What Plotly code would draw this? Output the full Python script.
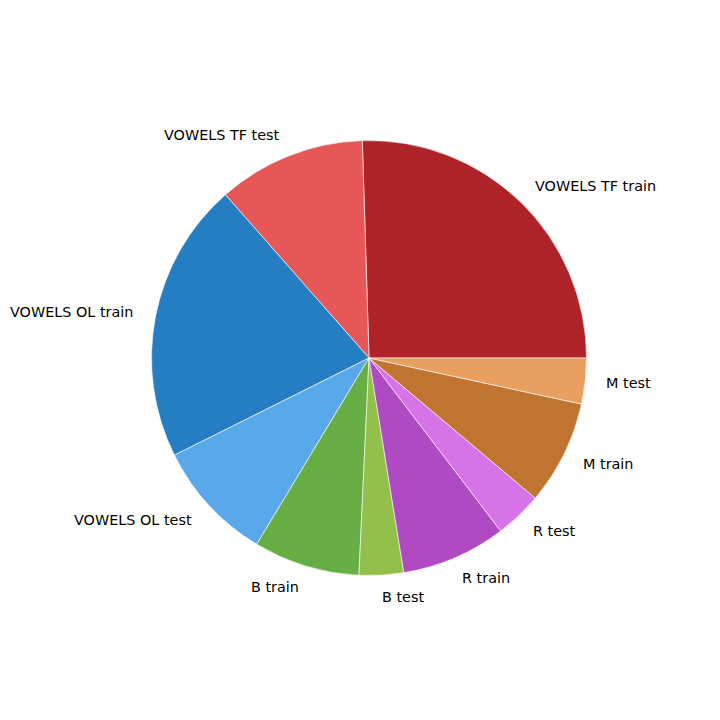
import math
import plotly.graph_objects as go

labels = ["VOWELS TF train", "VOWELS TF test", "VOWELS OL train", "VOWELS OL test",
          "B train", "B test", "R train", "R test", "M train", "M test"]
values = [25.5, 11.0, 20.9, 9.0, 7.9, 3.3, 7.8, 3.5, 7.75, 3.4]
colors = ["#AE2328", "#E85757", "#257DC2", "#59A8E9", "#67AF44", "#93C04B",
          "#B04AC3", "#D673E8", "#C07430", "#E99F5F"]

W = H = 720
OFF = 8  # page body margin
cx, cy, R = 369 - OFF, 358 - OFF, 217.5

total = sum(values)
# plotly puts the first slice's counterclockwise edge at `rotation`; start first slice at 3 o'clock
rot = 90 - 360 * values[0] / total

fig = go.Figure(go.Pie(
    labels=labels, values=values, sort=False,
    direction="counterclockwise", rotation=rot,
    marker=dict(colors=colors, line=dict(color="white", width=0.6)),
    textinfo="none", hoverinfo="label+percent", showlegend=False,
    domain=dict(x=[(cx - R) / W, (cx + R) / W], y=[1 - (cy + R) / H, 1 - (cy - R) / H]),
))

cum = 0.0
for lab, v in zip(labels, values):
    mid = 2 * math.pi * (cum + v / 2) / total
    cum += v
    px = cx + 1.1 * R * math.cos(mid)
    py = cy - 1.1 * R * math.sin(mid)
    right = math.cos(mid) > 0
    fig.add_annotation(
        x=px / W, y=1 - py / H, xref="paper", yref="paper",
        text=lab, showarrow=False,
        xanchor="left" if right else "right", yanchor="middle",
        xshift=-2 if right else 0, borderpad=0,
        font=dict(family="DejaVu Sans", size=14.4, color="black"),
    )

fig.update_layout(
    width=W, height=H, margin=dict(l=0, r=0, t=0, b=0),
    paper_bgcolor="white", plot_bgcolor="white",
)
fig.write_html("out.html")
